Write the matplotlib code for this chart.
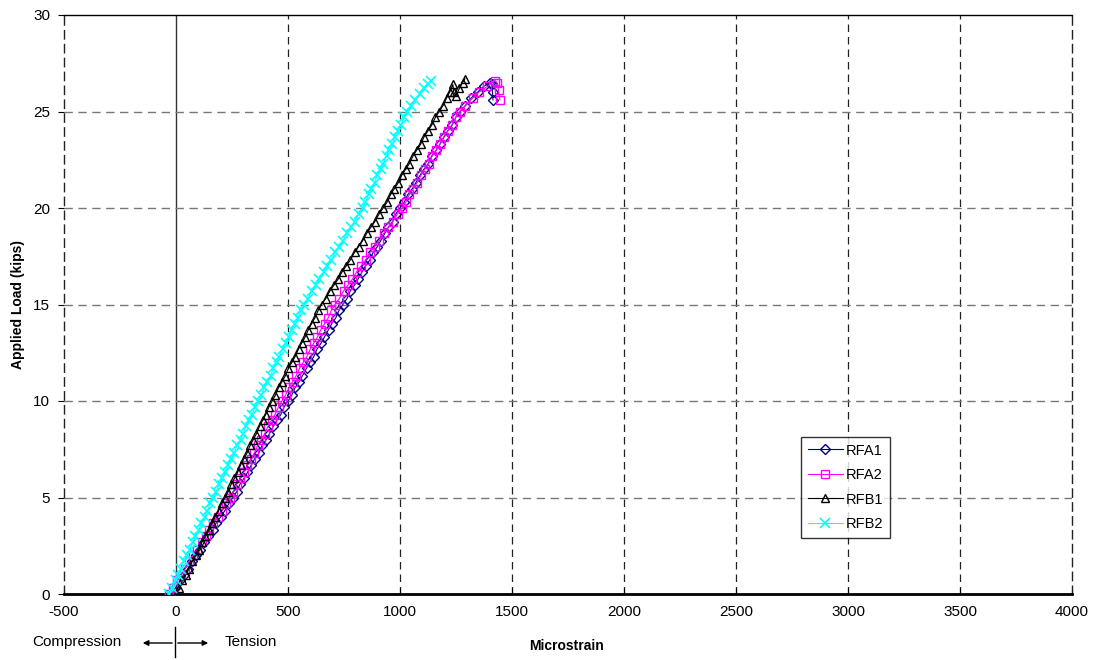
import matplotlib
matplotlib.use("Agg")
import matplotlib.pyplot as plt
from matplotlib.patches import FancyArrowPatch
from matplotlib.lines import Line2D

plt.rcParams['font.family'] = ['Liberation Sans', 'DejaVu Sans']
plt.rcParams['axes.unicode_minus'] = False

# ---- data ----
main_load = [0, 0.3, 0.7, 1.0, 1.3, 1.7, 2.0, 2.3, 2.7, 3.0, 3.3, 3.7, 4.0, 4.3, 4.7, 5.0,
             5.3, 5.7, 6.0, 6.3, 6.7, 7.0, 7.3, 7.7, 8.0, 8.3, 8.7, 9.0, 9.3, 9.7, 10.0,
             10.3, 10.7, 11.0, 11.3, 11.7, 12.0, 12.3, 12.7, 13.0, 13.3, 13.7, 14.0, 14.3, 14.7, 15.0,
             15.3, 15.7, 16.0, 16.3, 16.7, 17.0, 17.3, 17.7, 18.0, 18.3, 18.7, 19.0, 19.3, 19.7, 20.0,
             20.3, 20.7, 21.0, 21.3, 21.7, 22.0, 22.3, 22.7, 23.0, 23.3, 23.7, 24.0, 24.3, 24.7, 25.0]

rfa1_load = main_load + [25.3, 25.7, 26.0, 26.3, 26.5, 26.4, 26.0, 25.6]
rfa1_strain = [-20, -3, 17, 34, 54, 70, 91, 107, 127, 144, 164, 180, 200, 217, 237, 254,
               271, 286, 304, 319, 337, 351, 370, 384, 403, 417, 435, 450, 468, 483, 500,
               517, 532, 550, 564, 583, 597, 615, 630, 648, 662, 681, 695, 713, 728, 745,
               763, 778, 797, 812, 831, 846, 865, 880, 899, 914, 933, 948, 967, 982, 1000,
               1019, 1035, 1055, 1070, 1090, 1106, 1126, 1142, 1162, 1178, 1198, 1213, 1233, 1249, 1268,
               1292, 1318, 1346, 1374, 1400, 1411, 1413, 1415]

rfa2_load = main_load + [25.3, 25.7, 26.0, 26.3, 26.6, 26.5, 26.1, 25.6]
rfa2_strain = [-30, -13, 6, 24, 41, 59, 78, 95, 114, 132, 149, 167, 186, 204, 222, 241,
               256, 272, 287, 303, 318, 334, 349, 365, 380, 396, 411, 427, 442, 458, 473,
               489, 505, 521, 536, 552, 568, 584, 600, 615, 631, 647, 663, 679, 694, 710,
               729, 748, 768, 787, 807, 826, 846, 866, 887, 907, 928, 948, 968, 989, 1009,
               1026, 1042, 1060, 1076, 1094, 1110, 1128, 1144, 1162, 1178, 1196, 1213, 1231, 1249, 1268,
               1290, 1325, 1352, 1390, 1425, 1433, 1440, 1446]

rfb1_load = main_load + [25.3, 25.7, 26.0, 26.4, 26.0, 25.8, 26.2, 26.5, 26.7]
rfb1_strain = [0, 15, 29, 44, 58, 73, 88, 102, 117, 131, 146, 161, 175, 190, 204, 219,
               233, 247, 261, 275, 289, 303, 317, 331, 345, 359, 373, 387, 401, 415, 429,
               444, 458, 473, 488, 502, 517, 532, 547, 561, 576, 591, 605, 620, 635, 650,
               668, 687, 705, 723, 742, 760, 778, 797, 815, 833, 852, 870, 888, 907, 925,
               942, 958, 975, 992, 1008, 1025, 1042, 1058, 1075, 1092, 1108, 1125, 1142, 1158, 1175,
               1192, 1208, 1222, 1236, 1240, 1250, 1265, 1280, 1290]

rfb2_load = main_load + [25.3, 25.6, 25.9, 26.2, 26.4, 26.6]
rfb2_strain = [-30, -17, -2, 9, 24, 35, 50, 61, 76, 87, 102, 113, 128, 139, 154, 165,
               180, 192, 207, 219, 234, 245, 261, 272, 288, 299, 314, 326, 341, 353, 368,
               380, 395, 407, 423, 434, 450, 461, 477, 489, 504, 516, 532, 543, 559, 570,
               590, 605, 624, 640, 660, 675, 694, 710, 729, 745, 764, 780, 799, 815, 834,
               845, 860, 872, 887, 898, 913, 924, 940, 951, 966, 977, 992, 1004, 1019, 1030,
               1050, 1068, 1090, 1108, 1127, 1140]

x_ticks = [-500, 0, 500, 1000, 1500, 2000, 2500, 3000, 3500, 4000]
y_ticks = [0, 5, 10, 15, 20, 25, 30]

# ---- figure ----
fig = plt.figure(figsize=(10.96, 6.6), dpi=100)
ax = fig.add_axes([64/1096, 1 - 594/660, (1072 - 64)/1096, (594 - 15)/660])

ax.set_xlim(-500, 4000)
ax.set_ylim(0, 30)
ax.set_xticks(x_ticks)
ax.set_yticks(y_ticks)

for xv in x_ticks[1:-1]:
    if xv == 0:
        ax.axvline(xv, color='#333333', lw=1.0, zorder=1)
    else:
        ax.axvline(xv, color='#222222', lw=0.9, ls=(0, (6, 4)), zorder=1)
for yv in y_ticks[1:-1]:
    ax.axhline(yv, color='#777777', lw=1.0, ls=(0, (6, 4)), zorder=1)

ax.plot(rfa1_strain, rfa1_load, color='#000080', lw=0.8, marker='D', ms=5,
        mfc='none', mec='#000080', mew=1.0, label='RFA1', zorder=3)
ax.plot(rfa2_strain, rfa2_load, color='#FF00FF', lw=0.8, marker='s', ms=5.5,
        mfc='none', mec='#FF00FF', mew=1.0, label='RFA2', zorder=3)
ax.plot(rfb1_strain, rfb1_load, color='black', lw=0.8, marker='^', ms=6,
        mfc='none', mec='black', mew=1.0, label='RFB1', zorder=4)
ax.plot(rfb2_strain, rfb2_load, color='#00FFFF', lw=0.8, marker='x', ms=6.5,
        mec='#00FFFF', mew=1.2, label='RFB2', zorder=5)

for side in ['left', 'right']:
    ax.spines[side].set_linestyle((0, (6, 4)))
    ax.spines[side].set_color('#222222')
    ax.spines[side].set_linewidth(1.0)
ax.spines['top'].set_color('black')
ax.spines['top'].set_linewidth(1.0)
ax.spines['bottom'].set_color('black')
ax.spines['bottom'].set_linewidth(2.0)

ax.tick_params(axis='both', labelsize=11, length=4, color='black')
ax.tick_params(axis='x', direction='in', pad=8)
ax.tick_params(axis='y', direction='out', pad=6)

fig.text(18/1096, 1 - 304/660, 'Applied Load (kips)', fontsize=10, fontweight='bold',
         rotation=90, ha='center', va='center')
fig.text(567/1096, 1 - 646/660, 'Microstrain', fontsize=10, fontweight='bold',
         ha='center', va='center')

# Compression / Tension annotation
fig.text(77/1096, 1 - 642/660, 'Compression', fontsize=11, ha='center', va='center')
fig.text(251/1096, 1 - 642/660, 'Tension', fontsize=11, ha='center', va='center')
fig.add_artist(FancyArrowPatch(
    (175/1096, 1 - 643/660), (140/1096, 1 - 643/660), transform=fig.transFigure,
    arrowstyle='-|>', mutation_scale=8, color='black', lw=1))
fig.add_artist(FancyArrowPatch(
    (175/1096, 1 - 643/660), (211/1096, 1 - 643/660), transform=fig.transFigure,
    arrowstyle='-|>', mutation_scale=8, color='black', lw=1))
fig.add_artist(Line2D([175/1096, 175/1096], [1 - 627/660, 1 - 657/660],
                      transform=fig.transFigure, color='black', lw=1))

leg = ax.legend(loc='upper left', bbox_to_anchor=((801 - 64)/1008, 1 - (437 - 15)/579),
                fontsize=10.5, frameon=True, fancybox=False, edgecolor='black',
                handlelength=2.4, borderpad=0.45, labelspacing=0.72, handletextpad=0.25,
                borderaxespad=0)
leg.get_frame().set_linewidth(1.0)

fig.savefig('out.png', dpi=100)
